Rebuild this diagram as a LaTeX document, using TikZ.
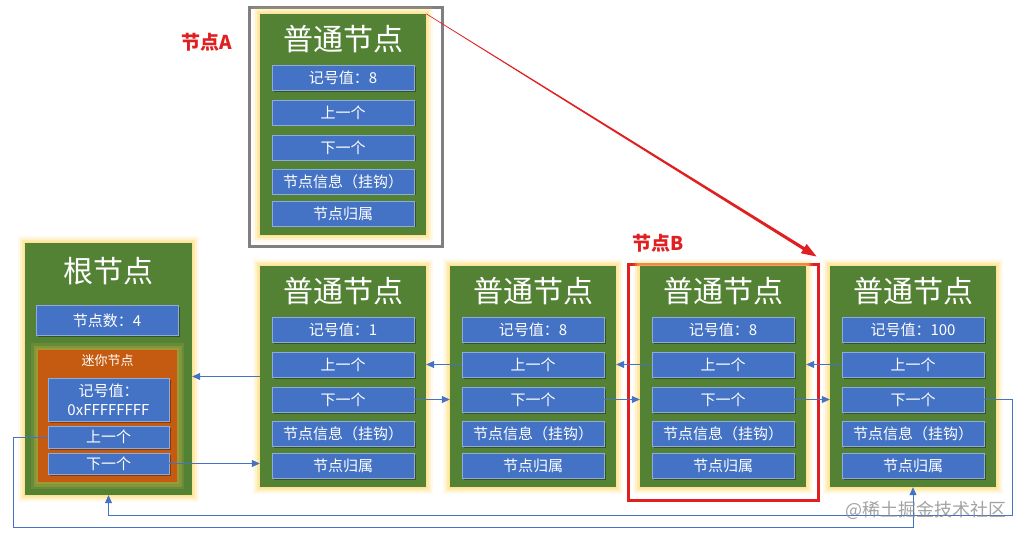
\documentclass[tikz,border=0pt]{standalone}
\usepackage{fontspec}
\setmainfont{Noto Sans CJK SC}
\usetikzlibrary{arrows.meta,calc,shadows}

\definecolor{ngreen}{HTML}{548235}
\definecolor{nblue}{HTML}{4472C4}
\definecolor{nborder}{HTML}{8FAADC}
\definecolor{nglow}{HTML}{FFD966}
\definecolor{norange}{HTML}{C55A11}
\definecolor{nolive}{HTML}{B8B040}
\definecolor{nred}{HTML}{E02020}
\definecolor{ngray}{HTML}{808080}
\definecolor{nline}{HTML}{4472C4}

\tikzset{
  greenbox/.style={fill=ngreen, inner sep=0pt,
    preaction={draw=nglow, line width=14pt, opacity=0.12},
    preaction={draw=nglow, line width=10pt, opacity=0.22},
    preaction={draw=nglow, line width=6pt, opacity=0.35},
    preaction={draw=nglow, line width=2pt, opacity=0.4}},
  minibox/.style={fill=norange, inner sep=0pt,
    preaction={draw=nolive, line width=14pt, opacity=0.2},
    preaction={draw=nolive, line width=9pt, opacity=0.35},
    preaction={draw=nolive!80!norange, line width=4pt, opacity=0.45}},
  titletext/.style={text=white, font=\fontsize{30}{30}\selectfont, inner sep=0pt},
  minititle/.style={text=white, font=\fontsize{13}{13}\selectfont, inner sep=0pt},
  field/.style={fill=nblue, draw=nborder, line width=0.6pt, text=white,
    minimum width=142pt, minimum height=25pt, inner sep=0pt,
    font=\fontsize{15}{15}\selectfont,
    drop shadow={shadow xshift=1.5pt, shadow yshift=-1.5pt, opacity=0.35, fill=black}},
  conn/.style={draw=nline, line width=0.8pt},
  arr/.style={conn, -{Triangle[length=8pt,width=7pt]}},
  redlabel/.style={text=nred, font=\bfseries\fontsize{19}{19}\selectfont, inner sep=0pt},
}

\newcommand\ordnode[4]{%
  \node[greenbox, minimum width=166pt, minimum height=221pt] (#1-g) at (#2,#3+110.5) {};
  \node[titletext] (#1-t) at (#2,#3+25) {普通节点};
  \node[field] (#1-v) at (#2,#3+64) {记号值：#4};
  \node[field] (#1-p) at (#2,#3+98.5) {上一个};
  \node[field] (#1-n) at (#2,#3+133.5) {下一个};
  \node[field] (#1-i) at (#2,#3+167.5) {节点信息（挂钩）};
  \node[field] (#1-o) at (#2,#3+199.5) {节点归属};
}

\begin{document}
\begin{tikzpicture}[x=1pt,y=-1pt]
\useasboundingbox[fill=white] (0,0) rectangle (1025,537);

% frames
\node[draw=ngray, line width=3pt, minimum width=193pt, minimum height=239pt, inner sep=0pt] (boxA) at (345.5,127.5) {};
\node[draw=nred, line width=3pt, minimum width=190pt, minimum height=235pt, inner sep=0pt] (boxB) at (723,382.5) {};

% ordinary nodes
\ordnode{nA}{343}{14}{8}
\ordnode{n1}{343}{266}{1}
\ordnode{n2}{533}{266}{8}
\ordnode{n3}{723}{266}{8}
\ordnode{n4}{913}{266}{100}

% root node
\node[greenbox, minimum width=167pt, minimum height=252pt] (root-g) at (108.5,369) {};
\node[titletext] (root-t) at (108.5,271) {根节点};
\node[field, minimum height=30pt] (root-c) at (107,320.5) {节点数：4};
\node[minibox, minimum width=139pt, minimum height=132pt] (mini) at (107.5,416) {};
\node[minititle] (mini-t) at (107.5,361) {迷你节点};
\node[field, minimum width=121pt, minimum height=43pt, align=center, font=\fontsize{15}{19}\selectfont] (rv) at (108.5,399.5) {记号值：\\0xFFFFFFFF};
\node[field, minimum width=121pt, minimum height=22pt] (rp) at (108.5,437) {上一个};
\node[field, minimum width=121pt, minimum height=21pt] (rn) at (108.5,463.5) {下一个};

% labels
\node[redlabel] (labA) at (207,42) {节点A};
\node[redlabel] (labB) at (658,243) {节点B};

% connectors between neighbours
\draw[arr] (n1-g.west) -- (n1-g.west -| root-g.east);
\draw[arr] (rn.east) -- (rn.east -| n1-g.west);
\draw[arr] (n2-p.west) -- (n2-p.west -| n1-g.east);
\draw[arr] (n1-n.east) -- (n1-n.east -| n2-g.west);
\draw[arr] (n3-p.west) -- (n3-p.west -| n2-g.east);
\draw[arr] (n2-n.east) -- (n2-n.east -| n3-g.west);
\draw[arr] (n4-p.west) -- (n4-p.west -| n3-g.east);
\draw[arr] (n3-n.east) -- (n3-n.east -| n4-g.west);

% loop connectors
\coordinate (loopR) at (1012,515);
\coordinate (loopL) at (13,527);
\draw[arr] (n4-n.east) -| (loopR) -| (root-g.south);
\draw[arr] (rp.west) -| (loopL) -| (n4-g.south);

% red tapered arrow from node A to node B
\coordinate (ra) at (nA-g.north east);
\coordinate (rt) at ($(boxB.north east)+(-3,-7)$);
\coordinate (rb) at ($(rt)!15pt!(ra)$);
\fill[nred] ($(ra)!0.3pt!90:(rt)$) -- ($(rb)!1.6pt!90:(rt)$) -- ($(rb)!5.5pt!90:(rt)$) -- (rt)
  -- ($(rb)!5.5pt!-90:(rt)$) -- ($(rb)!1.6pt!-90:(rt)$) -- ($(ra)!0.3pt!-90:(rt)$) -- cycle;

% watermark
\node[text=black!45, opacity=0.8, font=\fontsize{18}{18}\selectfont, inner sep=0pt] (wm) at (926,510) {@稀土掘金技术社区};
\end{tikzpicture}
\end{document}
